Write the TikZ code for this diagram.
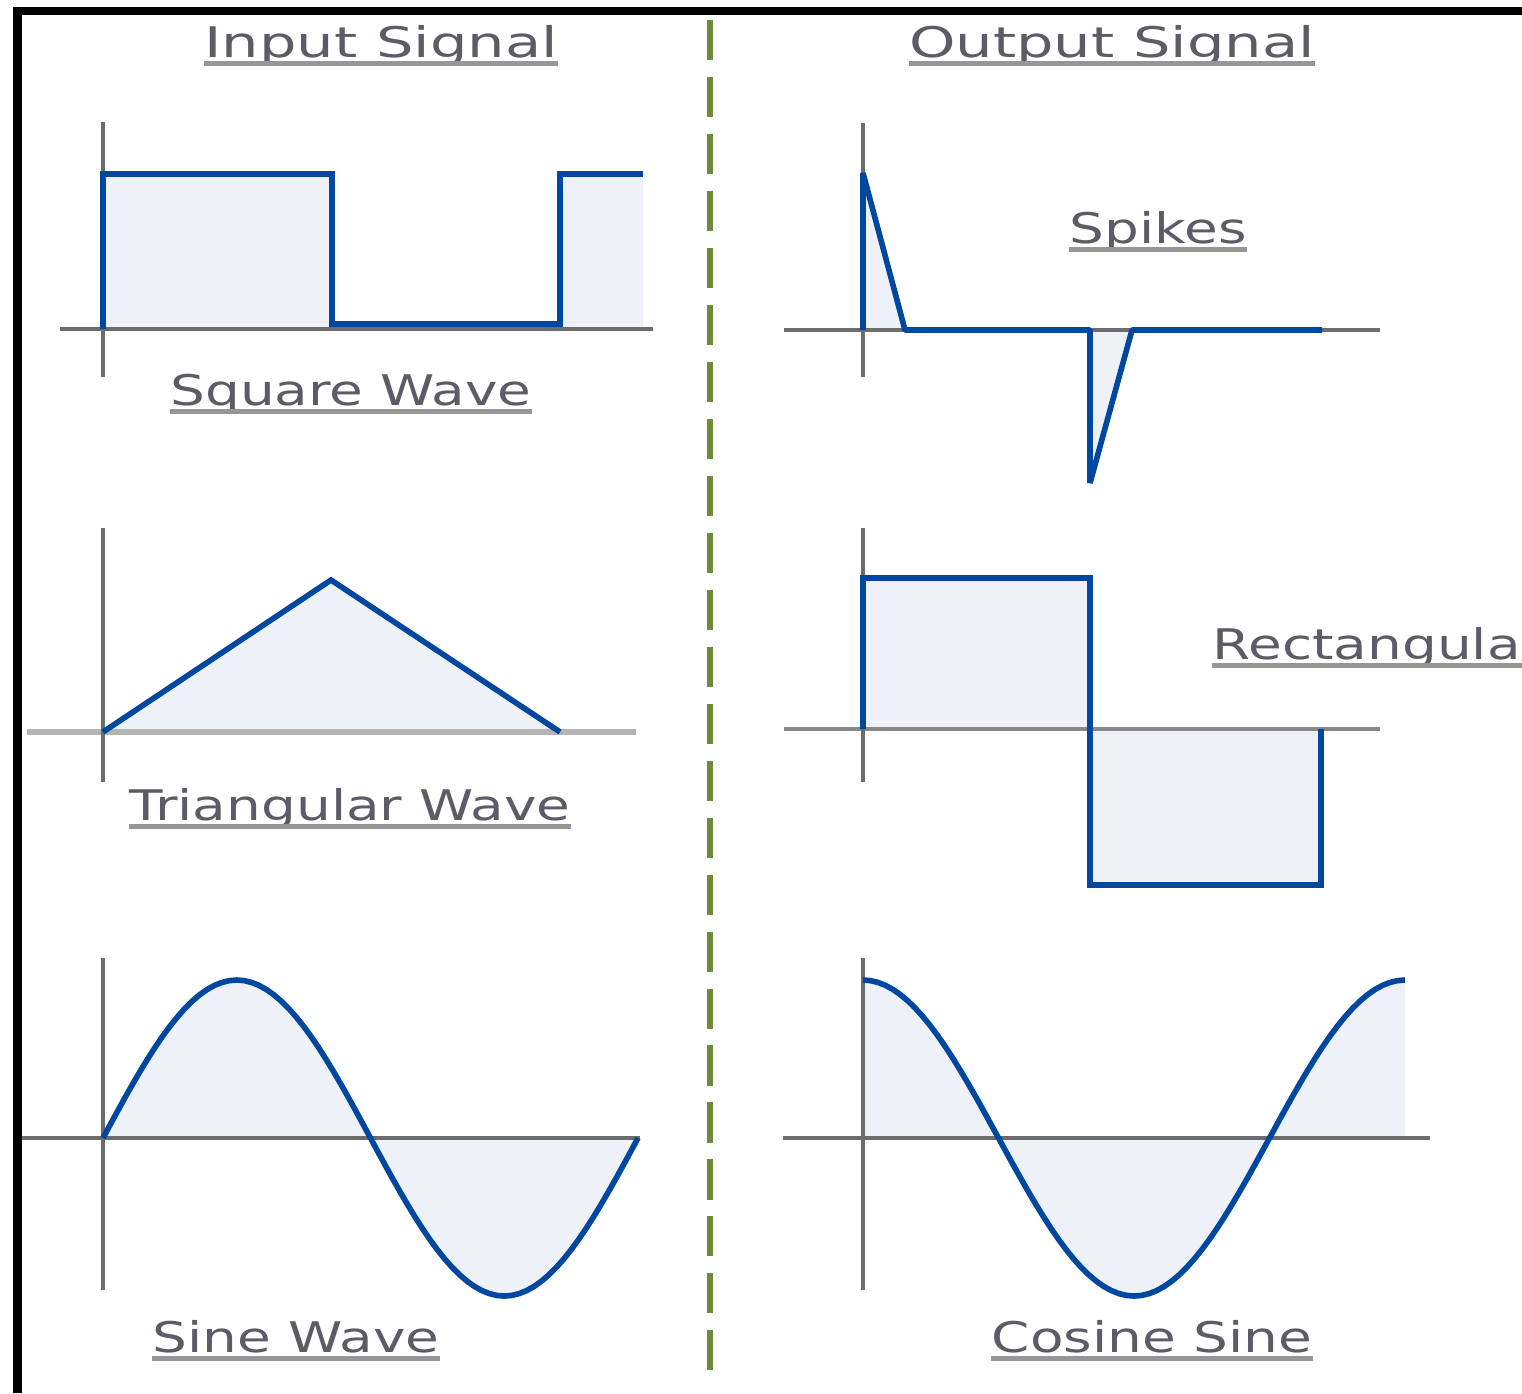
\documentclass[tikz,border=0pt]{standalone}
\usepackage{fontspec}
\usetikzlibrary{positioning}
\newfontfamily\labelfont[FakeStretch=1.3]{DejaVu Sans}
\newfontfamily\headfont[FakeStretch=1.4]{DejaVu Sans}
\definecolor{waveblue}{RGB}{0,71,160}
\definecolor{wavefill}{RGB}{238,241,247}
\definecolor{axisgray}{RGB}{108,108,108}
\definecolor{axismid}{RGB}{136,136,136}
\definecolor{axislight}{RGB}{180,180,180}
\definecolor{textgray}{RGB}{92,92,102}
\definecolor{linegray}{RGB}{150,150,150}
\definecolor{divgreen}{RGB}{110,138,58}

\begin{document}
\begin{tikzpicture}[
  x=0.01cm, y=-0.01cm,
  axis/.style={draw=axisgray, line width=1.4pt},
  wave/.style={draw=waveblue, line width=1.6pt, line join=miter},
  area/.style={fill=wavefill},
  lbl/.style={anchor=base, inner sep=0pt, text=textgray,
              font=\labelfont\fontsize{12}{14}\selectfont},
  head/.style={lbl, font=\headfont\fontsize{12}{14}\selectfont},
  uline/.style={draw=linegray, line width=1.3pt}
]
\clip (0,0) rectangle (1522,1393);
\fill[white] (0,0) rectangle (1522,1393);

% frame and divider
\draw[line width=2.3pt, line join=miter] (17.5,1393) -- (17.5,11) -- (1522,11);
\draw[divgreen, line width=1.6pt, dash pattern=on 11.4pt off 4.8pt] (710,20) -- (710,1385);

% square wave
\fill[area] (103,329) rectangle (332,174);
\fill[area] (560,329) rectangle (643,174);
\draw[axis] (103,122) -- (103,377);
\draw[axis] (60,329) -- (653,329);
\draw[wave] (103,329) -- (103,174) -- (332,174) -- (332,324) -- (560,324) -- (560,174) -- (643,174);

% spikes
\fill[area] (863,330) -- (863,173) -- (905,330) -- cycle;
\fill[area] (1090,330) -- (1090,483) -- (1132,330) -- cycle;
\draw[axis] (863,123) -- (863,377);
\draw[axis] (784,330) -- (1380,330);
\draw[wave, line join=bevel] (863,330) -- (863,173) -- (905,330) -- (1090,330) -- (1090,483) -- (1132,330) -- (1322,330);

% triangular wave
\fill[area] (103,732) -- (331,580) -- (560,732) -- cycle;
\draw[axis, draw=axislight, line width=1.7pt] (27,732) -- (636,732);
\draw[axis] (103,528) -- (103,782);
\draw[wave] (103,732) -- (331,580) -- (560,732);

% rectangular
\fill[area] (863,729) rectangle (1090,578);
\fill[area] (1090,729) rectangle (1321,885);
\draw[axis, draw=axismid] (784,729) -- (1380,729);
\draw[axis] (863,528) -- (863,782);
\draw[wave] (863,729) -- (863,578) -- (1090,578) -- (1090,885) -- (1321,885) -- (1321,729);

% sine wave
\fill[area] plot[domain=0:360, samples=73] ({103+\x/360*535},{1138-158*sin(\x)}) -- cycle;
\draw[axis] (103,958) -- (103,1290);
\draw[axis] (22,1138) -- (640,1138);
\draw[wave, line join=round] plot[domain=0:360, samples=73] ({103+\x/360*535},{1138-158*sin(\x)});

% cosine
\fill[area] plot[domain=0:360, samples=73] ({863+\x/360*542},{1138-158*cos(\x)})
            -- (1405,1138) -- (863,1138) -- cycle;
\draw[axis] (863,958) -- (863,1290);
\draw[axis] (783,1138) -- (1430,1138);
\draw[wave, line join=round] plot[domain=0:360, samples=73] ({863+\x/360*542},{1138-158*cos(\x)});

% labels
\node[head] (hin)  at (381,57)   {Input Signal};
\node[head] (hout) at (1112,57)  {Output Signal};
\node[lbl]  (sq)   at (351,405)  {Square Wave};
\node[lbl]  (sp)   at (1158,243) {Spikes};
\node[lbl]  (tri)  at (350,820)  {Triangular Wave};
\node[lbl, anchor=base west] (rect) at (1212,659) {Rectangular};
\node[lbl]  (sine) at (296,1352) {Sine Wave};
\node[lbl]  (cos)  at (1152,1352) {Cosine Sine};

\foreach \lab in {hin,hout,sq,sp,tri,rect,sine,cos}
  \draw[uline] ([yshift=-1.8pt]\lab.base west) -- ([yshift=-1.8pt]\lab.base east);
\end{tikzpicture}
\end{document}
